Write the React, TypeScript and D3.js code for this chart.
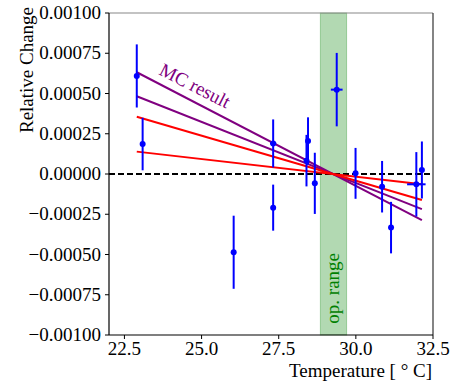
import React from "react"
import * as d3 from "d3"

// measured points: temperature, relative change, errors
const temps = [22.9, 23.09, 26.04, 27.32, 27.32, 28.4, 28.45, 28.67, 29.38, 29.99, 30.85, 31.14, 31.96, 32.14]
const values = [0.000609, 0.000186, -0.000486, -0.000209, 0.00019, 0.000083, 0.000205, -0.000058, 0.000524, 0.000004, -0.000079, -0.000333, -0.000064, 0.000025]
const yErr = [0.000196, 0.000163, 0.000227, 0.000143, 0.000149, 0.00016, 0.000147, 0.00019, 0.000228, 0.000158, 0.00016, 0.00016, 0.0002, 0.000177]
const xErr = [0, 0, 0, 0, 0.1, 0, 0, 0, 0.19, 0, 0, 0, 0.3, 0]

// fit lines (endpoints at min / max temperature)
const fitX = [22.9, 32.14]
const mcUpper = [0.000632, -0.000287]
const mcLower = [0.000483, -0.000218]
const fitUpper = [0.000356, -0.000161]
const fitLower = [0.000139, -0.000064]

const opRange = [28.85, 29.7]
const xTicks = [22.5, 25.0, 27.5, 30.0, 32.5]
const yTicks = [-0.001, -0.00075, -0.0005, -0.00025, 0, 0.00025, 0.0005, 0.00075, 0.001]

const W = 457
const H = 388
const left = 109
const right = 433
const top = 13
const bottom = 335
const font = "Liberation Serif"

const App = () => {
  const x = d3.scaleLinear().domain([22, 32.5]).range([left, right])
  const y = d3.scaleLinear().domain([-0.001, 0.001]).range([bottom, top])
  const line = d3.line<number>().x((d, i) => x(fitX[i])).y(d => y(d))
  const fmtY = d3.format(".5f")
  const fmtX = d3.format(".1f")

  const fits = [
    { data: mcUpper, color: "#800080" },
    { data: mcLower, color: "#800080" },
    { data: fitUpper, color: "#ff0000" },
    { data: fitLower, color: "#ff0000" },
  ]
  const ts = { fontFamily: font }

  return (
    <svg width={W} height={H} style={{ position: "absolute", left: 0, top: 0, background: "white" }}>
      {/* operating range band */}
      <rect
        x={x(opRange[0])}
        y={top}
        width={x(opRange[1]) - x(opRange[0])}
        height={bottom - top}
        fill="green"
        fillOpacity={0.3}
        stroke="green"
        strokeOpacity={0.3}
      />
      <text
        transform={`translate(${(x(opRange[0]) + x(opRange[1])) / 2 + 6},${y(-0.00071)}) rotate(-90)`}
        textAnchor="middle"
        fill="green"
        fontSize={19}
        style={ts}
      >
        op. range
      </text>

      {/* zero line */}
      <line x1={left} x2={right} y1={y(0)} y2={y(0)} stroke="black" strokeWidth={2} strokeDasharray="6,3" />

      {fits.map((f, i) => (
        <path key={i} d={line(f.data) || ""} fill="none" stroke={f.color} strokeWidth={2} />
      ))}

      <text transform={`translate(158,74) rotate(27)`} fill="#800080" fontSize={19} style={ts}>
        MC result
      </text>

      {/* data with error bars */}
      {temps.map((t, i) => (
        <g key={i}>
          <line x1={x(t)} x2={x(t)} y1={y(values[i] - yErr[i])} y2={y(values[i] + yErr[i])} stroke="#0000ff" strokeWidth={2} />
          {xErr[i] > 0 && (
            <line x1={x(t - xErr[i])} x2={x(t + xErr[i])} y1={y(values[i])} y2={y(values[i])} stroke="#0000ff" strokeWidth={2} />
          )}
          <circle cx={x(t)} cy={y(values[i])} r={3} fill="#0000ff" />
        </g>
      ))}

      {/* frame */}
      <line x1={left} x2={right} y1={top} y2={top} stroke="#888" strokeWidth={1.2} />
      <line x1={right} x2={right} y1={top} y2={bottom} stroke="#333" strokeWidth={1.2} />
      <line x1={left} x2={left} y1={top} y2={bottom} stroke="black" strokeWidth={1.2} />
      <line x1={left} x2={right} y1={bottom} y2={bottom} stroke="black" strokeWidth={1.2} />

      {/* x axis */}
      {xTicks.map(t => (
        <g key={t}>
          <line x1={x(t)} x2={x(t)} y1={bottom} y2={bottom + 4} stroke="black" />
          <text x={x(t)} y={355} textAnchor="middle" fontSize={19} style={ts}>
            {fmtX(t)}
          </text>
        </g>
      ))}
      <text x={432} y={377} textAnchor="end" fontSize={19} style={ts}>
        Temperature [ ° C]
      </text>

      {/* y axis */}
      {yTicks.map(t => (
        <g key={t}>
          <line x1={left - 4} x2={left} y1={y(t)} y2={y(t)} stroke="black" />
          <text x={101} y={y(t) + 6} textAnchor="end" fontSize={19} style={ts}>
            {fmtY(t)}
          </text>
        </g>
      ))}
      <text transform={`translate(33,70) rotate(-90)`} textAnchor="middle" fontSize={19} style={ts}>
        Relative Change
      </text>
    </svg>
  )
}

export default App
